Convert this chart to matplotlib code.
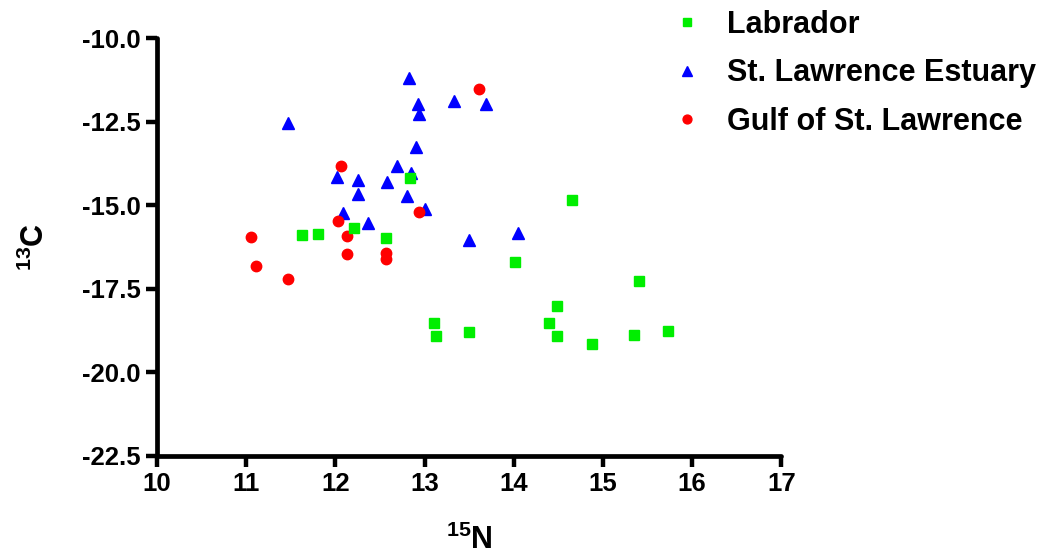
import matplotlib
matplotlib.use('Agg')
import matplotlib.pyplot as plt

plt.rcParams['font.family'] = ['Liberation Sans', 'DejaVu Sans']
plt.rcParams['font.weight'] = 'bold'
plt.rcParams['mathtext.fontset'] = 'custom'
plt.rcParams['mathtext.rm'] = 'Liberation Sans:bold'
plt.rcParams['mathtext.bf'] = 'Liberation Sans:bold'

# ── data ─────────────────────────────────────────────────────────────────────
lab_n = [11.63, 11.81, 12.21, 12.57, 12.84, 14.02, 14.65, 13.11, 13.13, 13.50,
         14.48, 14.40, 14.48, 14.88, 15.35, 15.73, 15.41]
lab_c = [-15.91, -15.88, -15.70, -16.00, -14.18, -16.70, -14.84, -18.54, -18.93,
         -18.81, -18.03, -18.54, -18.92, -19.16, -18.90, -18.78, -17.27]

sle_n = [12.83, 11.47, 12.93, 12.94, 13.33, 13.69, 12.90, 12.69, 12.02, 12.26,
         12.58, 12.85, 12.26, 12.80, 13.00, 12.09, 12.37, 13.50, 14.05]
sle_c = [-11.20, -12.55, -11.97, -12.28, -11.90, -11.97, -13.27, -13.84, -14.16,
         -14.26, -14.30, -14.04, -14.66, -14.72, -15.11, -15.25, -15.53, -16.05,
         -15.83]

gsl_n = [13.61, 12.06, 12.94, 12.03, 12.13, 11.05, 12.13, 12.57, 12.57, 11.11,
         11.47]
gsl_c = [-11.52, -13.82, -15.21, -15.47, -15.94, -15.97, -16.46, -16.43, -16.63,
         -16.81, -17.22]

x_ticks = [10, 11, 12, 13, 14, 15, 16, 17]
y_ticks = [-22.5, -20.0, -17.5, -15.0, -12.5, -10.0]

# ── figure ───────────────────────────────────────────────────────────────────
fig = plt.figure(figsize=(10.39, 5.59), dpi=100, facecolor='white')
ax = fig.add_axes([0.151, 0.185, 0.601, 0.747])

ax.plot(lab_n, lab_c, 's', color='#00ee00', markersize=7.5, linestyle='none',
        label='Labrador', zorder=3)
ax.plot(sle_n, sle_c, '^', color='#0000ff', markersize=9, linestyle='none',
        label='St. Lawrence Estuary', zorder=2)
ax.plot(gsl_n, gsl_c, 'o', color='#ff0000', markersize=7.5, linestyle='none',
        label='Gulf of St. Lawrence', zorder=2)

ax.set_xlim(10, 17)
ax.set_ylim(-22.5, -10.0)
ax.set_xticks(x_ticks)
ax.set_yticks(y_ticks)
ax.set_yticklabels([f'{v:.1f}' for v in y_ticks])
ax.spines['top'].set_visible(False)
ax.spines['right'].set_visible(False)
for side in ['left', 'bottom']:
    ax.spines[side].set_linewidth(3.4)
    ax.spines[side].set_capstyle('round')
ax.tick_params(direction='out', length=8, width=3.2, labelsize=18.5, pad=3.5,
               colors='black')
for lab in ax.get_xticklabels() + ax.get_yticklabels():
    lab.set_fontweight('bold')

ax.set_xlabel(r'$^{15}$N', fontsize=22, fontweight='bold')
ax.set_ylabel(r'$^{13}$C', fontsize=22, fontweight='bold')
ax.xaxis.set_label_coords(0.5, -0.165)
ax.yaxis.set_label_coords(-0.170, 0.5)

fig.legend(loc='upper left', bbox_to_anchor=(672 / 1039, 0.982), frameon=False,
           handlelength=1.0, handletextpad=0.8, labelspacing=0.6,
           borderpad=0, borderaxespad=0, markerscale=0.85,
           prop={'weight': 'bold', 'size': 22})

fig.savefig('out.png', dpi=100, facecolor='white')
